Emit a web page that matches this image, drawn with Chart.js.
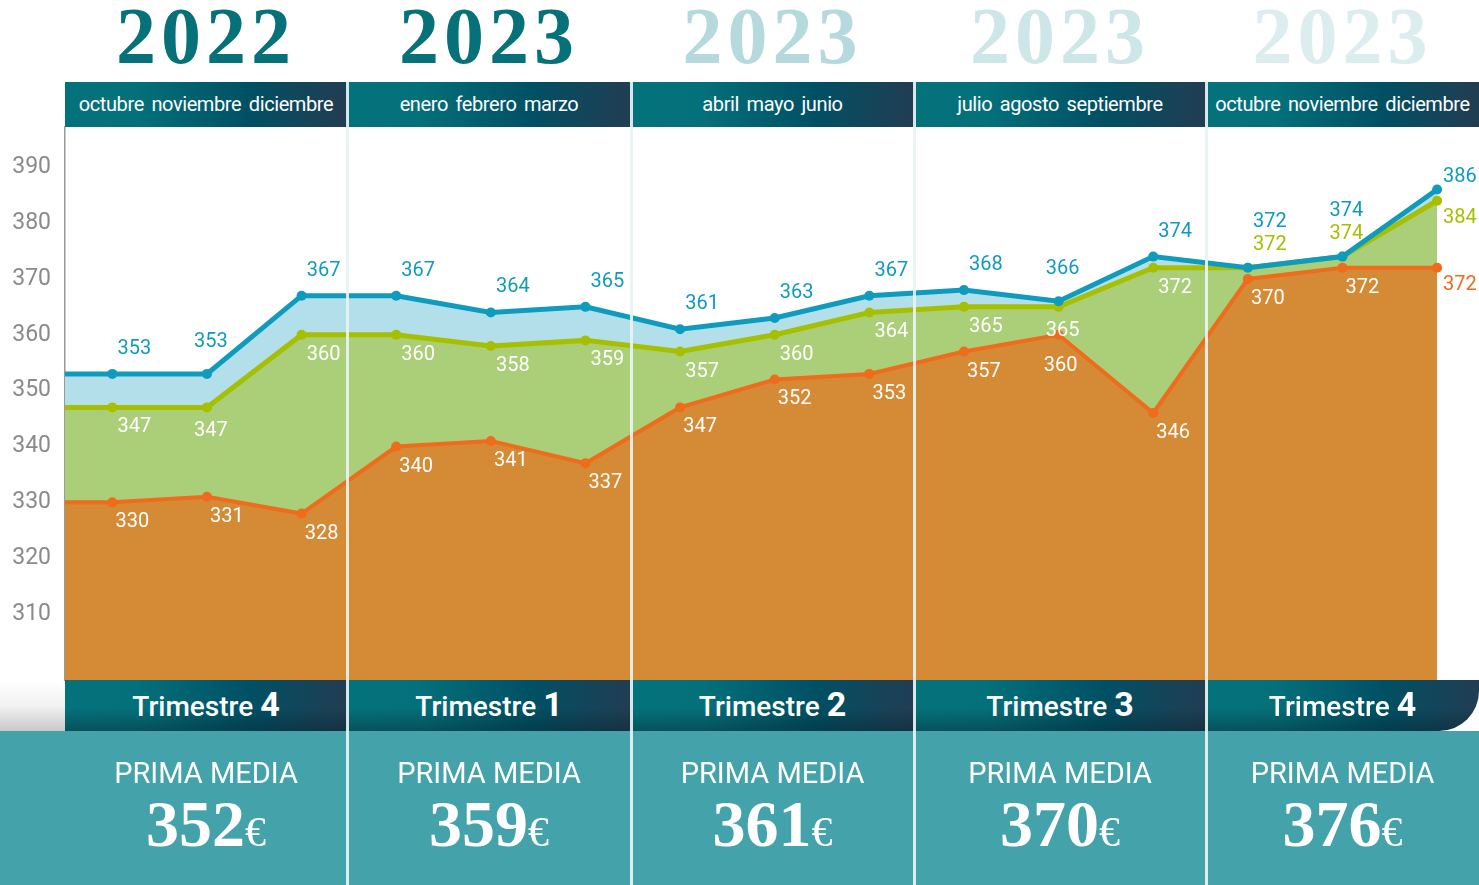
<!DOCTYPE html>
<html>
<head>
<meta charset="utf-8">
<script src="https://cdn.jsdelivr.net/npm/chart.js@4"></script>
<style>
  html, body { margin: 0; padding: 0; background: #fff; }
  #wrap { position: relative; width: 1479px; height: 885px; overflow: hidden; font-family: Roboto, sans-serif; }
  #chart { position: absolute; left: 0; top: 0; z-index: 2; }
  .bg-bottom { position: absolute; left: 0; top: 731px; width: 1479px; height: 154px; background: #44a3aa; z-index: 1; }
  .bg-left { position: absolute; left: 0; top: 680px; width: 65px; height: 51px; background: linear-gradient(180deg, #ffffff 0%, #f2f2f2 50%, #c9c9c9 100%); z-index: 1; }
  .year { position: absolute; top: -4px; height: 82px; text-align: center; font-family: "Liberation Serif", serif; font-weight: bold; font-size: 80px; line-height: 80px; letter-spacing: 5px; z-index: 3; }
  .months { position: absolute; top: 82px; height: 45px; line-height: 45px; text-align: center; color: #fff; font-size: 20px; letter-spacing: -0.4px; word-spacing: 3px; white-space: nowrap; z-index: 3;
    background: linear-gradient(90deg, #04727b 0%, #04707a 25%, #005064 65%, #223d52 100%); }
  .trim { position: absolute; top: 680px; height: 51px; line-height: 49px; text-align: center; color: #fff; font-size: 28px; font-weight: 500; z-index: 3;
    background: linear-gradient(180deg, rgba(0,0,0,0) 55%, rgba(5,25,35,0.35) 100%), linear-gradient(90deg, #04727b 0%, #04707a 25%, #005064 65%, #223d52 100%); }
  .trim b { font-size: 34px; font-weight: 700; }
  .prima { position: absolute; top: 731px; height: 154px; text-align: center; color: #fff; z-index: 3; }
  .prima .lbl { position: absolute; left: 0; right: 0; top: 22px; font-size: 29px; line-height: 40px; }
  .prima .val { position: absolute; left: 0; right: 0; top: 58px; font-family: "Liberation Serif", serif; font-weight: bold; font-size: 66px; line-height: 70px; }
  .prima .val span { font-size: 42px; font-weight: normal; }
  .sep { position: absolute; top: 82px; width: 3px; height: 803px; background: rgba(232,243,244,0.92); z-index: 4; }
</style>
</head>
<body>
<div id="wrap">
  <div class="bg-bottom"></div>
  <div class="bg-left"></div>
  <canvas id="chart" width="1479" height="885"></canvas>
</div>
<script>
// data
const years = ['2022', '2023', '2023', '2023', '2023']
const monthGroups = [
    'octubre noviembre diciembre',
    'enero febrero marzo',
    'abril mayo junio',
    'julio agosto septiembre',
    'octubre noviembre diciembre'
]
const quarterNumbers = [4, 1, 2, 3, 4]
const primaMedia = [352, 359, 361, 370, 376]

const blueSeries = [353, 353, 367, 367, 364, 365, 361, 363, 367, 368, 366, 374, 372, 374, 386]
const greenSeries = [347, 347, 360, 360, 358, 359, 357, 360, 364, 365, 365, 372, 372, 374, 384]
const orangeSeries = [330, 331, 328, 340, 341, 337, 347, 352, 353, 357, 360, 346, 370, 372, 372]

const yTicks = [310, 320, 330, 340, 350, 360, 370, 380, 390]

// layout / styles
const quarterEdges = [65, 347, 631, 914, 1206, 1479]
const yearColors = ['#07717a', '#07717a', '#b5d9dc', '#cde6e8', '#dbedef']
const BLUE = '#0f9bbe'
const GREEN = '#a6c000'
const ORANGE = '#ee6c1c'

// decorations
const wrap = document.querySelector('#wrap')
const addDiv = (cls, left, width, html, style) => {
    const d = document.createElement('div')
    d.className = cls
    d.style.left = left + 'px'
    d.style.width = width + 'px'
    if (style) Object.assign(d.style, style)
    d.innerHTML = html
    wrap.appendChild(d)
    return d
}

years.forEach((year, q) => {
    const left = quarterEdges[q]
    const width = quarterEdges[q + 1] - left
    addDiv('year', left, width, year, { color: yearColors[q] })
    addDiv('months', left, width, monthGroups[q])
    const t = addDiv('trim', left, width, 'Trimestre <b>' + quarterNumbers[q] + '</b>')
    if (q === years.length - 1) t.style.borderBottomRightRadius = '40px'
    addDiv('prima', left, width, '<div class="lbl">PRIMA MEDIA</div><div class="val">' + primaMedia[q] + '<span>€</span></div>')
    if (q > 0) addDiv('sep', left - 1, 3, '')
})

// chart
const toPoints = (values) => {
    // leading point holds the first value out to the left edge of the plot
    const pts = [{ x: -0.5, y: values[0] }]
    values.forEach((v, i) => pts.push({ x: i, y: v }))
    return pts
}
const radii = [0].concat(blueSeries.map(() => 5))

const makeDataset = (label, values, color, fillColor, fill, width, order) => ({
    label: label,
    data: toPoints(values),
    borderColor: color,
    backgroundColor: fillColor,
    pointBackgroundColor: color,
    pointBorderColor: color,
    pointRadius: radii,
    pointBorderWidth: 0,
    borderWidth: width,
    fill: fill,
    tension: 0,
    order: order
})

const labelPlugin = {
    id: 'pointLabels',
    afterDatasetsDraw(chart) {
        const ctx = chart.ctx
        const last = blueSeries.length
        ctx.save()
        ctx.font = '20px Roboto'
        ctx.textBaseline = 'middle'
        chart.data.datasets.forEach((ds, d) => {
            const meta = chart.getDatasetMeta(d)
            meta.data.forEach((pt, i) => {
                if (i === 0) return
                const idx = i - 1
                const value = ds.data[i].y
                const next = i < last ? ds.data[i + 1].y : value
                const rising = next - value > 5
                const falling = value - next > 5
                let x = pt.x + (rising ? 4 : 22)
                let y = pt.y
                let color = '#ffffff'
                ctx.textAlign = 'center'
                if (i === last) {
                    ctx.textAlign = 'left'
                    x = pt.x + 6
                    color = ds.borderColor
                    y = ds.label === 'blue' ? pt.y - 13 : pt.y + 17
                } else if (ds.label === 'blue') {
                    color = BLUE
                    if (blueSeries[idx] === greenSeries[idx]) y = pt.y - 46
                    else y = pt.y - (rising ? 32 : 25)
                } else if (ds.label === 'green') {
                    if (blueSeries[idx] === greenSeries[idx]) {
                        color = GREEN
                        y = pt.y - 23
                    } else {
                        y = pt.y + (rising ? 24 : 20)
                    }
                } else {
                    x = pt.x + (falling ? 2 : 20)
                    y = pt.y + (falling ? 31 : 20)
                }
                ctx.fillStyle = color
                ctx.fillText(String(value), x, y)
            })
        })
        ctx.restore()
    }
}

const chart = new Chart(document.getElementById('chart'), {
    type: 'line',
    data: {
        datasets: [
            makeDataset('orange', orangeSeries, ORANGE, '#d58a35', 'start', 4, 2),
            makeDataset('green', greenSeries, GREEN, '#abcf79', '-1', 5, 1),
            makeDataset('blue', blueSeries, BLUE, '#b3dfea', '-1', 5, 0)
        ]
    },
    options: {
        responsive: false,
        animation: false,
        layout: { padding: { top: 127, bottom: 205, left: 0, right: 0 } },
        plugins: {
            legend: { display: false },
            tooltip: { enabled: false },
            filler: { drawTime: 'beforeDatasetsDraw' }
        },
        scales: {
            x: {
                type: 'linear',
                min: -0.5,
                max: 14.39,
                display: false
            },
            y: {
                min: 298.2,
                max: 397.2,
                afterBuildTicks: (axis) => { axis.ticks = yTicks.map(v => ({ value: v })) },
                afterFit: (axis) => { axis.width = 65 },
                grid: { display: false, drawTicks: false },
                border: { display: true, color: '#9a9a9a', width: 1.5 },
                ticks: {
                    color: '#8a8a8a',
                    font: { family: 'Roboto', size: 23 },
                    padding: 14
                }
            }
        }
    },
    plugins: [labelPlugin]
})
</script>
</body>
</html>
